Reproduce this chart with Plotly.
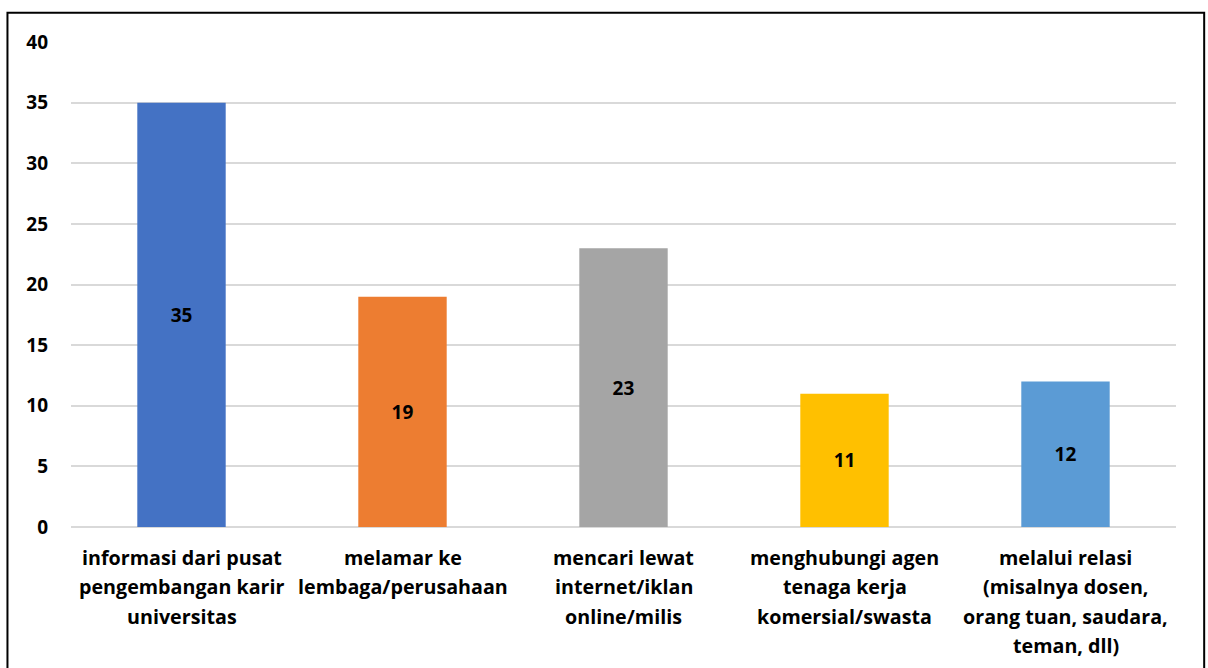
import plotly.graph_objects as go

# ── Data ──
categories = [
    "informasi dari pusat<br>pengembangan karir<br>universitas",
    "melamar ke<br>lembaga/perusahaan",
    "mencari lewat<br>internet/iklan<br>online/milis",
    "menghubungi agen<br>tenaga kerja<br>komersial/swasta",
    "melalui relasi<br>(misalnya dosen,<br>orang tuan, saudara,<br>teman, dll)",
]
values = [35, 19, 23, 11, 12]
bar_colors = ["#4472C4", "#ED7D31", "#A5A5A5", "#FFC000", "#5B9BD5"]
y_ticks = [0, 5, 10, 15, 20, 25, 30, 35, 40]

FONT = "Open Sans"

fig = go.Figure(
    go.Bar(
        x=categories,
        y=values,
        marker=dict(color=bar_colors, line=dict(width=0)),
        text=values,
        textposition="inside",
        insidetextanchor="middle",
        textangle=0,
        textfont=dict(family=FONT, size=19, color="black", weight="bold"),
        cliponaxis=False,
        hoverinfo="skip",
    )
)

# category labels: one annotation per line so line spacing matches
for cat in categories:
    for i, line in enumerate(cat.split("<br>")):
        fig.add_annotation(
            x=cat, xref="x", y=0, yref="paper",
            text=line, showarrow=False,
            yanchor="middle", yshift=-(30 + 29.6 * i),
            font=dict(family=FONT, size=19.7, color="black", weight="bold"),
        )

# outer frame
fig.add_shape(
    type="rect", xref="paper", yref="paper",
    x0=-0.0575, x1=1.0255, y0=-0.35, y1=1.0605,
    line=dict(color="black", width=2), fillcolor="rgba(0,0,0,0)",
)

fig.update_layout(
    width=1208,
    height=668,
    margin=dict(l=71, r=32, t=42, b=141),
    paper_bgcolor="white",
    plot_bgcolor="white",
    bargap=0.6,
    showlegend=False,
    font=dict(family=FONT, color="black"),
)
fig.update_xaxes(showticklabels=False, showline=False, ticks="", showgrid=False)
fig.update_yaxes(
    range=[0, 40],
    tickvals=y_ticks,
    showgrid=True,
    gridcolor="#D9D9D9",
    gridwidth=2,
    zeroline=True,
    zerolinecolor="#D9D9D9",
    zerolinewidth=2,
    ticks="",
    ticklabelstandoff=22,
    tickfont=dict(family=FONT, size=19, color="black", weight="bold"),
)

# drop the default body margin so the figure sits at the page origin
fig.write_html(
    "out.html",
    config={"displayModeBar": False},
    post_script="document.body.style.margin='0';",
)
